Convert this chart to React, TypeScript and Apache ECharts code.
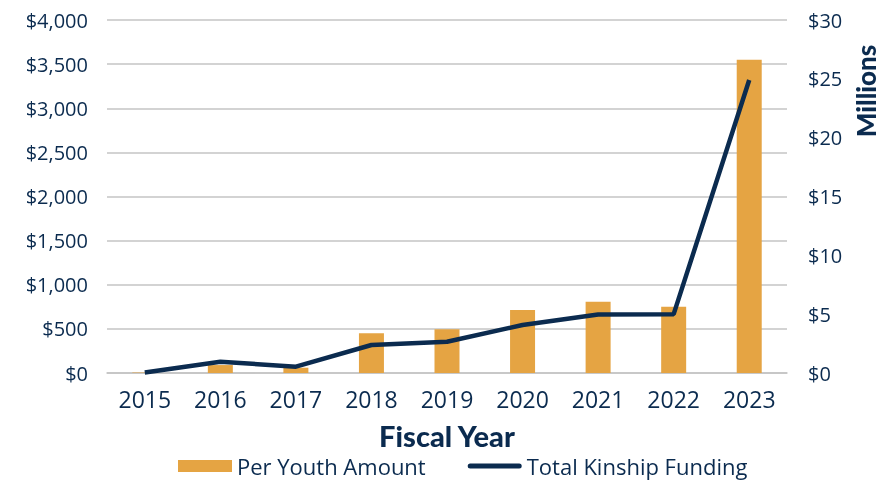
import React, { useEffect, useRef } from "react";
import * as echarts from "echarts";

const years = ["2015", "2016", "2017", "2018", "2019", "2020", "2021", "2022", "2023"];
const perYouth = [5, 90, 60, 450, 495, 714, 808, 751, 3550];
const totalFunding = [0.05, 0.96, 0.54, 2.38, 2.66, 4.08, 4.98, 5.0, 24.9];

const NAVY = "#0b2b4f";
const GOLD = "#e5a443";
const FONT = "'Open Sans', 'Noto Sans', sans-serif";
const LINE_ICON = "path://M0,0 L0.01,0 M2.5,3.5 L51.5,3.5 A2.5,2.5 0 0 1 51.5,8.5 L2.5,8.5 A2.5,2.5 0 0 1 2.5,3.5 Z M54,12 L53.99,12";

export default function App() {
  const ref = useRef<HTMLDivElement>(null);
  useEffect(() => {
    if (!ref.current) return;
    const chart = echarts.init(ref.current, undefined, { renderer: "svg" });
    chart.setOption({
      animation: false,
      textStyle: { fontFamily: FONT },
      grid: { left: 107, right: 96, top: 20, bottom: 108 },
      legend: {
        top: 455,
        left: 178,
        padding: 0,
        itemWidth: 54,
        itemHeight: 12,
        itemGap: 42,
        textStyle: { color: NAVY, fontSize: 22, fontFamily: FONT },
        data: [
          { name: "Per Youth Amount", icon: "rect" },
          { name: "Total Kinship Funding", icon: LINE_ICON, itemStyle: { color: NAVY } },
        ],
      },
      xAxis: {
        type: "category",
        data: years,
        name: "Fiscal Year",
        nameLocation: "middle",
        nameGap: 48,
        nameTextStyle: { color: NAVY, fontSize: 29, fontWeight: 900, fontFamily: "Lato, sans-serif" },
        axisLine: { lineStyle: { color: "#c4c4c4", width: 1.5 } },
        axisTick: { show: false },
        axisLabel: { color: NAVY, fontSize: 23, margin: 14 },
      },
      yAxis: [
        {
          type: "value",
          min: 0,
          max: 4000,
          interval: 500,
          axisLine: { show: false },
          axisTick: { show: false },
          splitLine: { lineStyle: { color: "#c4c4c4", width: 1.5 } },
          axisLabel: {
            color: NAVY,
            fontSize: 20,
            margin: 19,
            formatter: (v: number) => "$" + v.toLocaleString("en-US"),
          },
        },
        {
          type: "value",
          min: 0,
          max: 30,
          interval: 5,
          axisLine: { show: false },
          axisTick: { show: false },
          splitLine: { show: false },
          axisLabel: {
            color: NAVY,
            fontSize: 20,
            margin: 21,
            formatter: (v: number) => "$" + v,
          },
        },
      ],
      graphic: [
        {
          type: "text",
          x: 866,
          y: 91,
          rotation: Math.PI / 2,
          style: {
            text: "Millions",
            fill: NAVY,
            font: "900 26px Lato, sans-serif",
            align: "center",
            verticalAlign: "middle",
          },
        },
      ],
      series: [
        {
          name: "Per Youth Amount",
          type: "bar",
          data: perYouth,
          barWidth: 25,
          itemStyle: { color: GOLD },
        },
        {
          name: "Total Kinship Funding",
          type: "line",
          yAxisIndex: 1,
          data: totalFunding,
          symbol: "none",
          lineStyle: { color: NAVY, width: 4.5 },
          itemStyle: { color: NAVY },
        },
      ],
    });
    return () => chart.dispose();
  }, []);
  return <div ref={ref} style={{ position: "fixed", left: 0, top: 0, width: 883, height: 481 }} />;
}
